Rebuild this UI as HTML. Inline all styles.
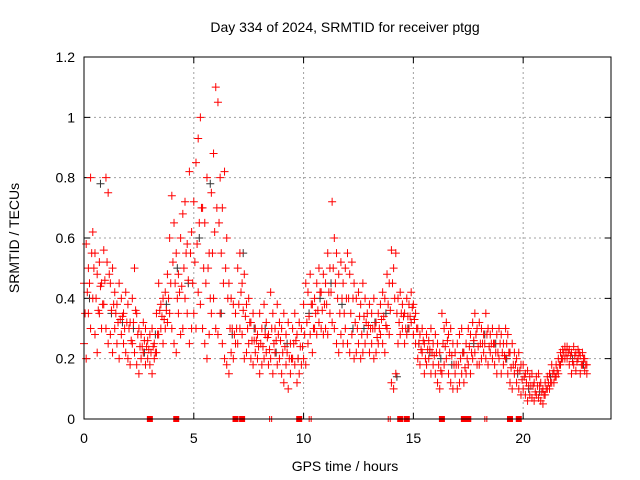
<!DOCTYPE html>
<html><head><meta charset="utf-8"><style>
body{margin:0;background:#fff}
svg{display:block;font-family:"Liberation Sans",sans-serif}
</style></head><body>
<svg id="chart" width="640" height="480" viewBox="0 0 640 480" xmlns="http://www.w3.org/2000/svg">
<rect width="640" height="480" fill="#fff"/>
<text x="345" y="32" font-size="14" text-anchor="middle">Day 334 of 2024, SRMTID for receiver ptgg</text>
<text x="345" y="471" font-size="14" text-anchor="middle">GPS time / hours</text>
<text transform="translate(19,238) rotate(-90)" font-size="14" text-anchor="middle">SRMTID / TECUs</text>
<g id="grid"></g>
<g id="ticks"></g>
<g id="black"></g>
<g id="red"></g>
<rect x="84" y="57" width="527" height="362" fill="none" stroke="#000" stroke-width="1"/>
</svg>
<script>
const xTicks=[0,5,10,15,20];
const yTicks=[0,0.2,0.4,0.6,0.8,1,1.2];
const yTickLabels=["0","0.2","0.4","0.6","0.8","1","1.2"];
const times=[0,0.1,0.2,0.3,0.4,0.5,0.6,0.7,0.8,0.9,1,1.1,1.2,1.3,1.4,1.5,1.6,1.7,1.8,1.9,2,2.1,2.2,2.3,2.4,2.5,2.6,2.7,2.8,2.9,3,3.1,3.2,3.3,3.4,3.5,3.6,3.7,3.8,3.9,4,4.1,4.2,4.3,4.4,4.5,4.6,4.7,4.8,4.9,5,5.1,5.2,5.3,5.4,5.5,5.6,5.7,5.8,5.9,6,6.1,6.2,6.3,6.4,6.5,6.6,6.7,6.8,6.9,7,7.1,7.2,7.3,7.4,7.5,7.6,7.7,7.8,7.9,8,8.1,8.2,8.3,8.4,8.5,8.6,8.7,8.8,8.9,9,9.1,9.2,9.3,9.4,9.5,9.6,9.7,9.8,9.9,10,10.1,10.2,10.3,10.4,10.5,10.6,10.7,10.8,10.9,11,11.1,11.2,11.3,11.4,11.5,11.6,11.7,11.8,11.9,12,12.1,12.2,12.3,12.4,12.5,12.6,12.7,12.8,12.9,13,13.1,13.2,13.3,13.4,13.5,13.6,13.7,13.8,13.9,14,14.1,14.2,14.3,14.4,14.5,14.6,14.7,14.8,14.9,15,15.1,15.2,15.3,15.4,15.5,15.6,15.7,15.8,15.9,16,16.1,16.2,16.3,16.4,16.5,16.6,16.7,16.8,16.9,17,17.1,17.2,17.3,17.4,17.5,17.6,17.7,17.8,17.9,18,18.1,18.2,18.3,18.4,18.5,18.6,18.7,18.8,18.9,19,19.1,19.2,19.3,19.4,19.5,19.6,19.7,19.8,19.9,20,20.1,20.2,20.3,20.4,20.5,20.6,20.7,20.8,20.9,21,21.1,21.2,21.3,21.4,21.5,21.6,21.7,21.8,21.9,22,22.1,22.2,22.3,22.4,22.5,22.6,22.7,22.8,22.9];
const midTimes=[0.05,0.15,0.25,0.35,0.45,0.55,0.65,0.75,0.85,0.95,1.05,1.15,1.25,1.35,1.45,1.55,1.65,1.75,1.85,1.95,2.05,2.15,2.25,2.35,2.45,2.55,2.65,2.75,2.85,2.95,3.05,3.15,3.25,3.35,3.45,3.55,3.65,3.75,3.85,3.95,4.05,4.15,4.25,4.35,4.45,4.55,4.65,4.75,4.85,4.95,5.05,5.15,5.25,5.35,5.45,5.55,5.65,5.75,5.85,5.95,6.05,6.15,6.25,6.35,6.45,6.55,6.65,6.75,6.85,6.95,7.05,7.15,7.25,7.35,7.45,7.55,7.65,7.75,7.85,7.95,8.05,8.15,8.25,8.35,8.45,8.55,8.65,8.75,8.85,8.95,9.05,9.15,9.25,9.35,9.45,9.55,9.65,9.75,9.85,9.95,10.05,10.15,10.25,10.35,10.45,10.55,10.65,10.75,10.85,10.95,11.05,11.15,11.25,11.35,11.45,11.55,11.65,11.75,11.85,11.95,12.05,12.15,12.25,12.35,12.45,12.55,12.65,12.75,12.85,12.95,13.05,13.15,13.25,13.35,13.45,13.55,13.65,13.75,13.85,13.95,14.05,14.15,14.25,14.35,14.45,14.55,14.65,14.75,14.85,14.95,15.05,15.15,15.25,15.35,15.45,15.55,15.65,15.75,15.85,15.95,16.05,16.15,16.25,16.35,16.45,16.55,16.65,16.75,16.85,16.95,17.05,17.15,17.25,17.35,17.45,17.55,17.65,17.75,17.85,17.95,18.05,18.15,18.25,18.35,18.45,18.55,18.65,18.75,18.85,18.95,19.05,19.15,19.25,19.35,19.45,19.55,19.65,19.75,19.85,19.95,20.05,20.15,20.25,20.35,20.45,20.55,20.65,20.75,20.85,20.95,21.05,21.15,21.25,21.35,21.45,21.55,21.65,21.75,21.85,21.95,22.05,22.15,22.25,22.35,22.45,22.55,22.65,22.75,22.85];
const redUpper=[.45,.58,.50,.80,.62,.55,.48,.52,.45,.56,
.80,.75,.45,.50,.42,.38,.45,.40,.35,.42,
.38,.32,.40,.50,.35,.30,.28,.32,.30,.26,
.28,.30,.25,.35,.45,.38,.40,.42,.48,.60,
.74,.65,.55,.48,.60,.68,.72,.58,.82,.62,
.72,.85,.93,1.0,.70,.65,.80,.55,.75,.88,
1.10,1.05,.80,.70,.82,.60,.45,.40,.38,.35,
.50,.55,.45,.48,.38,.40,.32,.35,.30,.28,
.35,.30,.38,.32,.28,.42,.35,.30,.38,.32,
.30,.35,.28,.32,.25,.30,.35,.28,.32,.30,
.38,.45,.42,.48,.38,.40,.45,.50,.42,.48,
.45,.55,.50,.72,.60,.55,.48,.52,.45,.50,
.55,.48,.52,.45,.40,.42,.38,.45,.40,.35,
.38,.35,.40,.32,.35,.38,.42,.40,.48,.45,
.56,.50,.55,.40,.42,.38,.35,.40,.38,.42,
.38,.35,.30,.28,.30,.25,.28,.26,.30,.25,
.28,.25,.22,.35,.30,.32,.28,.30,.25,.22,
.25,.28,.30,.22,.25,.30,.28,.32,.35,.30,
.32,.30,.28,.35,.30,.28,.30,.25,.28,.30,
.28,.25,.30,.28,.22,.25,.22,.20,.22,.18,
.18,.15,.16,.14,.15,.12,.14,.15,.12,.10,
.12,.14,.15,.18,.16,.18,.20,.22,.23,.24,
.24,.23,.22,.24,.22,.23,.21,.22,.20,.18];
const redLower=[.25,.20,.35,.30,.40,.28,.22,.35,.30,.38,
.30,.25,.28,.22,.30,.25,.20,.28,.25,.22,
.20,.18,.25,.22,.18,.15,.20,.22,.18,.20,
.18,.15,.20,.22,.28,.30,.25,.30,.32,.35,
.30,.25,.22,.35,.28,.30,.40,.35,.25,.30,
.35,.30,.42,.38,.30,.25,.20,.28,.35,.40,
.30,.28,.35,.25,.20,.18,.15,.22,.20,.25,
.25,.30,.28,.20,.22,.25,.20,.18,.22,.20,
.15,.18,.20,.22,.18,.20,.15,.22,.18,.20,
.15,.12,.18,.10,.15,.20,.18,.12,.15,.18,
.20,.18,.25,.28,.22,.30,.28,.32,.30,.28,
.30,.28,.35,.32,.30,.25,.22,.28,.25,.30,
.25,.22,.28,.20,.22,.25,.20,.22,.25,.28,
.22,.25,.20,.22,.25,.28,.25,.22,.30,.28,
.12,.10,.15,.25,.28,.30,.25,.28,.30,.32,
.28,.25,.20,.18,.22,.15,.18,.20,.15,.18,
.15,.12,.10,.15,.18,.20,.15,.12,.10,.15,
.10,.12,.15,.12,.15,.18,.15,.20,.22,.18,
.18,.20,.22,.20,.18,.22,.20,.18,.15,.20,
.15,.18,.20,.15,.12,.10,.15,.12,.10,.08,
.10,.08,.06,.08,.07,.06,.08,.07,.06,.05,
.08,.10,.10,.12,.12,.14,.15,.18,.20,.20,
.20,.18,.15,.18,.16,.20,.15,.18,.16,.15];
const redMid=[.35,.42,.45,.55,.50,.40,.36,.44,.38,.46,
.52,.48,.36,.38,.35,.32,.33,.34,.30,.32,
.30,.26,.32,.36,.28,.24,.24,.26,.24,.23,
.22,.24,.22,.28,.36,.34,.33,.36,.40,.45,
.52,.45,.40,.42,.44,.50,.55,.46,.55,.45,
.52,.58,.65,.70,.50,.45,.50,.40,.55,.62,
.70,.65,.55,.45,.50,.40,.30,.30,.28,.30,
.38,.42,.36,.34,.30,.32,.26,.26,.26,.24,
.25,.24,.28,.27,.23,.30,.25,.26,.28,.26,
.22,.24,.22,.20,.20,.25,.26,.20,.24,.24,
.28,.32,.34,.38,.30,.35,.36,.42,.36,.38,
.38,.42,.42,.50,.45,.40,.35,.40,.35,.40,
.40,.35,.40,.32,.30,.34,.28,.34,.32,.31,
.30,.30,.30,.27,.30,.33,.34,.31,.38,.36,
.45,.40,.35,.32,.35,.34,.30,.34,.34,.37,
.33,.30,.25,.23,.26,.20,.23,.23,.22,.21,
.22,.18,.16,.25,.24,.26,.22,.21,.18,.18,
.18,.20,.22,.17,.20,.24,.22,.26,.28,.24,
.25,.25,.25,.28,.24,.25,.25,.22,.22,.25,
.22,.21,.25,.22,.17,.18,.18,.16,.16,.13,
.14,.12,.11,.11,.11,.09,.11,.11,.09,.08,
.10,.12,.12,.15,.14,.16,.18,.20,.22,.22,
.22,.21,.19,.21,.19,.22,.18,.20,.18,.17];
const blackTimes=[0.25,0.75,1.25,1.75,2.25,2.75,3.25,3.75,4.25,4.75,5.25,5.75,6.25,6.75,7.25,7.75,8.25,8.75,9.25,9.75,10.25,10.75,11.25,11.75,12.25,12.75,13.25,13.75,14.25,14.75,15.25,15.75,16.25,16.75,17.25,17.75,18.25,18.75,19.25,19.75,20.25,20.75,21.25,21.75,22.25,22.75];
const blackValues=[.40,.78,.35,.32,.30,.22,.28,.38,.50,.45,.60,.78,.35,.28,.55,.30,.30,.22,.25,.20,.35,.40,.45,.38,.30,.30,.32,.35,.14,.30,.25,.22,.20,.18,.22,.25,.28,.25,.20,.15,.10,.09,.14,.20,.20,.18];
const zeroTimes=[3,4.2,6.9,7.2,9.8,14.4,14.7,16.3,17.3,17.5,19.4,19.8];
const zeroTicks=[8.5,10.3,13.9,18.3];

const NS="http://www.w3.org/2000/svg";
const X0=84,X1=611,Y0=419,Y1=57,XMAX=24,YMAX=1.2;
function xs(t){return X0+(X1-X0)*t/XMAX;}
function ys(v){return Y0-(Y0-Y1)*v/YMAX;}
function mk(tag,attrs,parent){const e=document.createElementNS(NS,tag);for(const k in attrs)e.setAttribute(k,attrs[k]);parent.appendChild(e);return e;}
const grid=document.getElementById('grid'),ticks=document.getElementById('ticks');
xTicks.forEach(t=>{
  const x=xs(t);
  if(t>0){const g=mk('line',{x1:x,x2:x,y1:Y1,y2:Y0,stroke:'#a0a0a0','stroke-dasharray':'2,3'},grid);
  
  }
  const l=mk('path',{d:`M${x},${Y0}v-6M${x},${Y1}v6`,stroke:'#000'},ticks);
  
  
  const tx=mk('text',{x:x,y:Y0+24,'font-size':14,'text-anchor':'middle'},ticks);tx.textContent=t;
  
  
});
yTicks.forEach((v,i)=>{
  const y=ys(v);
  if(v>0&&v<YMAX){const g=mk('line',{x1:X0,x2:X1,y1:y,y2:y,stroke:'#a0a0a0','stroke-dasharray':'2,3'},grid);
  
  }
  const l=mk('path',{d:`M${X0},${y}h6M${X1},${y}h-6`,stroke:'#000'},ticks);
  
  
  const tx=mk('text',{x:X0-9,y:y+5,'font-size':14,'text-anchor':'end'},ticks);tx.textContent=yTickLabels[i];
  
  
});
function plusPath(ts,vs){let d='';for(let i=0;i<ts.length;i++){const x=xs(ts[i]),y=ys(vs[i]);d+=`M${x-4},${y}h8M${x},${y-4}v8`;}return d;}
const blk=document.getElementById('black');
const bp=mk('path',{d:plusPath(blackTimes,blackValues),stroke:'#333',fill:'none'},blk);


const red=document.getElementById('red');
const r1=mk('path',{d:plusPath(times,redUpper),stroke:'#f00',fill:'none'},red);


const r2=mk('path',{d:plusPath(times,redLower),stroke:'#f00',fill:'none'},red);


const r3=mk('path',{d:plusPath(midTimes,redMid),stroke:'#f00',fill:'none'},red);


zeroTimes.forEach(t=>{
  const r=mk('rect',{x:xs(t)-3,y:Y0-3,width:6,height:6,fill:'#f00'},red);
  
  
});
zeroTicks.forEach(t=>{
  const r=mk('path',{d:`M${xs(t)-1},${Y0-3}v6M${xs(t)+1},${Y0-3}v6`,stroke:'#f00'},red);
  
  
});
</script>
</body></html>
